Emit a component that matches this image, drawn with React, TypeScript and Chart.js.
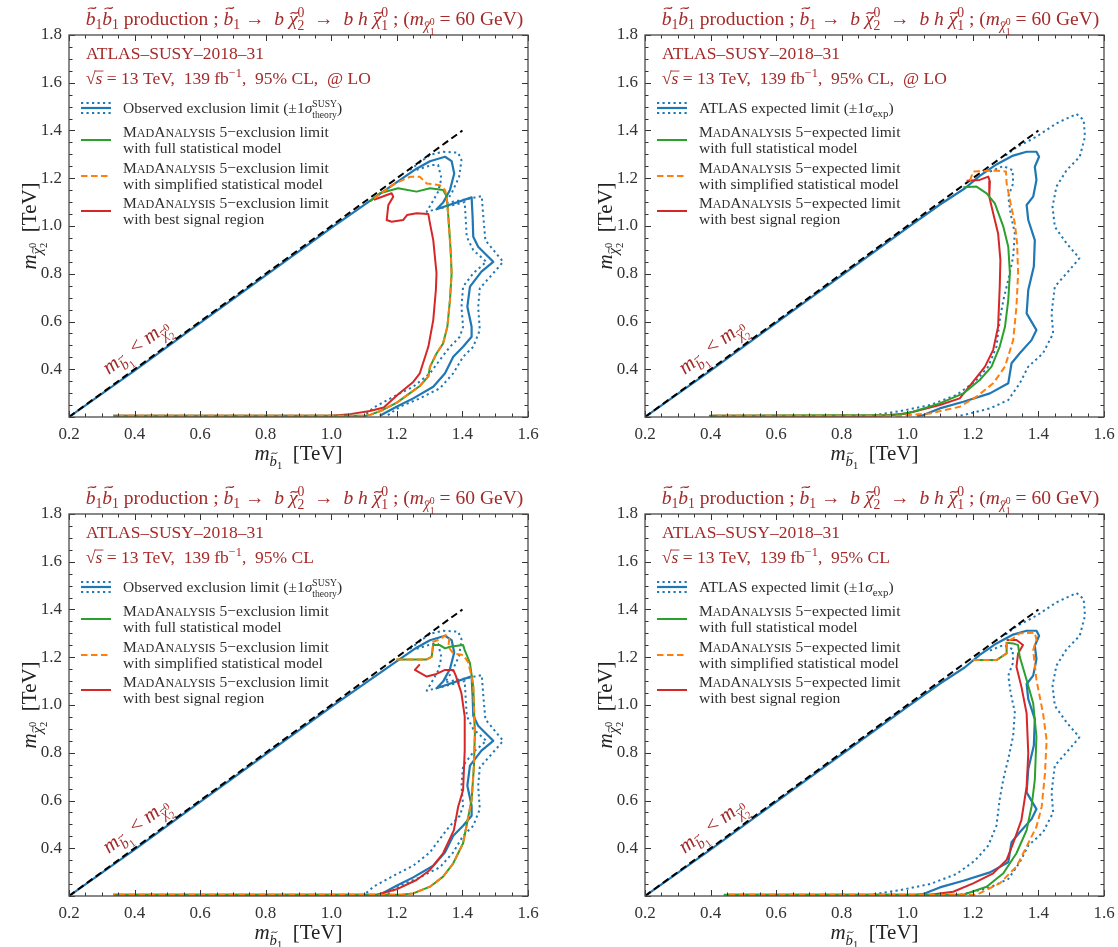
import React, { useEffect, useRef } from 'react';
import { Chart, registerables } from 'chart.js';
Chart.register(...registerables);

type P = [number, number];

const X_TICKS = [0.2, 0.4, 0.6, 0.8, 1.0, 1.2, 1.4, 1.6];
const Y_TICKS = [0.4, 0.6, 0.8, 1.0, 1.2, 1.4, 1.6, 1.8];

const diagonal: P[] = [[0.2, 0.2], [1.4, 1.4]];

// ATLAS observed limit (left panels)
const obsLimit: P[] = [[0.2,0.2],[0.4,0.394],[0.6,0.594],[0.8,0.793],[1.0,0.992],[1.118,1.105],[1.199,1.183],[1.26,1.24],[1.301,1.271],[1.347,1.29],[1.367,1.272],[1.375,1.22],[1.362,1.151],[1.341,1.098],[1.321,1.07],[1.428,1.12],[1.431,1.04],[1.433,0.955],[1.448,0.913],[1.494,0.85],[1.458,0.809],[1.423,0.746],[1.415,0.662],[1.428,0.578],[1.428,0.536],[1.402,0.494],[1.372,0.452],[1.347,0.383],[1.311,0.327],[1.25,0.278],[1.199,0.243],[1.148,0.205]];
const obsUp: P[] = [[1.24,1.235],[1.301,1.298],[1.341,1.311],[1.387,1.307],[1.397,1.276],[1.39,1.206],[1.367,1.137],[1.347,1.095],[1.459,1.125],[1.463,1.05],[1.47,0.94],[1.524,0.85],[1.494,0.802],[1.453,0.739],[1.448,0.662],[1.453,0.564],[1.433,0.494],[1.402,0.452],[1.372,0.383],[1.331,0.32],[1.27,0.278],[1.209,0.243],[1.17,0.205]];
const obsDown: P[] = [[1.26,1.235],[1.306,1.255],[1.326,1.255],[1.336,1.2],[1.326,1.144],[1.306,1.095],[1.291,1.06],[1.407,1.1],[1.413,0.955],[1.433,0.899],[1.473,0.85],[1.433,0.802],[1.402,0.746],[1.397,0.662],[1.402,0.578],[1.392,0.536],[1.362,0.494],[1.331,0.439],[1.301,0.383],[1.25,0.327],[1.19,0.285],[1.13,0.24],[1.1,0.205]];

// ATLAS expected limit (right panels)
const expLimit: P[] = [[0.2,0.2],[0.4,0.394],[0.6,0.594],[0.8,0.793],[1.0,0.992],[1.1,1.09],[1.176,1.158],[1.221,1.21],[1.272,1.258],[1.323,1.295],[1.364,1.311],[1.394,1.311],[1.402,1.29],[1.389,1.248],[1.394,1.193],[1.384,1.123],[1.364,1.088],[1.369,1.025],[1.389,0.941],[1.386,0.83],[1.369,0.732],[1.364,0.634],[1.394,0.564],[1.379,0.522],[1.343,0.467],[1.318,0.425],[1.308,0.341],[1.252,0.299],[1.171,0.264],[1.099,0.236],[1.049,0.208],[1.03,0.205]];
const expUp: P[] = [[1.3,1.295],[1.333,1.33],[1.394,1.374],[1.455,1.43],[1.516,1.469],[1.538,1.444],[1.542,1.374],[1.526,1.29],[1.486,1.234],[1.455,1.165],[1.443,1.081],[1.45,0.997],[1.486,0.927],[1.525,0.865],[1.495,0.816],[1.45,0.746],[1.44,0.634],[1.445,0.55],[1.414,0.467],[1.369,0.411],[1.343,0.341],[1.308,0.271],[1.252,0.236],[1.171,0.208],[1.15,0.205]];
const expDown: P[] = [[1.252,1.228],[1.293,1.251],[1.321,1.234],[1.323,1.179],[1.308,1.123],[1.315,1.053],[1.328,0.969],[1.323,0.872],[1.308,0.774],[1.293,0.69],[1.282,0.606],[1.272,0.495],[1.247,0.411],[1.206,0.348],[1.15,0.292],[1.069,0.25],[0.98,0.225],[0.886,0.205]];

// MadAnalysis 5, top-left (observed, LO)
const tlFull: P[] = [[1.118,1.103],[1.148,1.137],[1.204,1.158],[1.26,1.144],[1.301,1.158],[1.341,1.151],[1.352,1.123],[1.357,1.039],[1.364,0.899],[1.367,0.802],[1.362,0.69],[1.354,0.578],[1.341,0.508],[1.321,0.466],[1.301,0.41],[1.296,0.37],[1.27,0.33],[1.24,0.3],[1.2,0.26],[1.15,0.225],[1.12,0.21],[1.105,0.205],[0.335,0.205]];
const tlSimplified: P[] = [[1.13,1.115],[1.194,1.178],[1.24,1.206],[1.27,1.206],[1.291,1.178],[1.331,1.171],[1.347,1.151],[1.352,1.123],[1.357,1.039],[1.364,0.899],[1.367,0.802],[1.362,0.69],[1.354,0.578],[1.341,0.508],[1.321,0.466],[1.301,0.41],[1.296,0.37],[1.27,0.33],[1.24,0.3],[1.2,0.26],[1.15,0.225],[1.12,0.21],[1.105,0.205],[0.335,0.205]];
const tlBest: P[] = [[1.13,1.11],[1.184,1.137],[1.189,1.123],[1.174,1.088],[1.169,1.025],[1.184,1.018],[1.219,1.025],[1.231,1.046],[1.26,1.053],[1.296,1.05],[1.301,1.011],[1.311,0.941],[1.321,0.802],[1.319,0.732],[1.311,0.606],[1.296,0.494],[1.27,0.383],[1.25,0.347],[1.205,0.296],[1.16,0.24],[1.118,0.225],[1.057,0.212],[1.0,0.205],[0.335,0.205]];

// MadAnalysis 5, top-right (expected, LO)
const trFull: P[] = [[1.171,1.162],[1.211,1.165],[1.242,1.137],[1.267,1.095],[1.293,0.997],[1.308,0.913],[1.313,0.802],[1.308,0.69],[1.298,0.578],[1.282,0.495],[1.257,0.411],[1.221,0.355],[1.171,0.299],[1.099,0.257],[1.018,0.222],[0.967,0.208],[0.395,0.205]];
const trSimplified: P[] = [[1.191,1.19],[1.201,1.228],[1.267,1.232],[1.301,1.228],[1.303,1.179],[1.313,1.109],[1.328,1.011],[1.335,0.927],[1.338,0.802],[1.333,0.662],[1.323,0.522],[1.298,0.411],[1.262,0.341],[1.211,0.285],[1.16,0.243],[1.069,0.215],[0.978,0.205],[0.42,0.205]];
const trBest: P[] = [[1.181,1.19],[1.221,1.193],[1.247,1.207],[1.252,1.186],[1.25,1.123],[1.262,1.053],[1.277,0.969],[1.284,0.858],[1.282,0.746],[1.277,0.578],[1.262,0.481],[1.237,0.411],[1.201,0.348],[1.16,0.278],[1.099,0.25],[0.998,0.215],[0.917,0.205],[0.4,0.205]];

// MadAnalysis 5, bottom-left (observed)
const blFull: P[] = [[1.199,1.191],[1.291,1.191],[1.306,1.202],[1.311,1.251],[1.331,1.251],[1.347,1.237],[1.362,1.244],[1.402,1.251],[1.407,1.23],[1.423,1.175],[1.433,1.077],[1.438,0.881],[1.435,0.742],[1.428,0.602],[1.412,0.491],[1.402,0.421],[1.372,0.337],[1.341,0.281],[1.301,0.239],[1.25,0.211],[1.214,0.205],[0.335,0.205]];
const blSimplified: P[] = [[1.199,1.191],[1.291,1.191],[1.306,1.202],[1.311,1.265],[1.331,1.275],[1.349,1.293],[1.36,1.279],[1.357,1.244],[1.372,1.216],[1.402,1.209],[1.417,1.181],[1.428,1.119],[1.433,1.077],[1.438,0.881],[1.435,0.742],[1.428,0.602],[1.412,0.491],[1.402,0.421],[1.372,0.337],[1.341,0.281],[1.301,0.239],[1.25,0.211],[1.214,0.205],[0.335,0.205]];
const blBest: P[] = [[1.27,1.17],[1.255,1.147],[1.291,1.119],[1.321,1.13],[1.347,1.147],[1.372,1.147],[1.38,1.122],[1.397,1.049],[1.407,0.951],[1.407,0.811],[1.402,0.644],[1.387,0.574],[1.374,0.476],[1.341,0.379],[1.301,0.309],[1.26,0.267],[1.199,0.228],[1.138,0.205],[0.335,0.205]];

// MadAnalysis 5, bottom-right (expected)
const brFull: P[] = [[1.201,1.188],[1.272,1.188],[1.303,1.216],[1.303,1.261],[1.323,1.258],[1.338,1.251],[1.343,1.202],[1.364,1.105],[1.384,1.007],[1.394,0.867],[1.389,0.686],[1.379,0.574],[1.364,0.476],[1.333,0.379],[1.293,0.295],[1.242,0.239],[1.171,0.205],[0.44,0.205]];
const brSimplified: P[] = [[1.201,1.188],[1.272,1.188],[1.303,1.216],[1.303,1.265],[1.323,1.279],[1.343,1.3],[1.389,1.303],[1.394,1.272],[1.384,1.23],[1.394,1.105],[1.414,0.965],[1.425,0.853],[1.42,0.714],[1.41,0.574],[1.394,0.49],[1.364,0.407],[1.333,0.323],[1.282,0.253],[1.211,0.205],[0.45,0.205]];
const brBest: P[] = [[1.303,1.272],[1.333,1.272],[1.353,1.251],[1.338,1.216],[1.333,1.16],[1.348,1.077],[1.364,0.965],[1.369,0.797],[1.364,0.658],[1.348,0.518],[1.323,0.421],[1.303,0.351],[1.262,0.295],[1.201,0.253],[1.14,0.218],[1.069,0.205],[0.45,0.205]];

const BLUE = '#1f77b4';
const GREEN = '#2ca02c';
const ORANGE = '#ff7f0e';
const RED = '#d62728';
const DARKRED = '#a52a2a';
const INK = '#2e2e2e';
const SERIF = '"Liberation Serif", "Times New Roman", serif';

type Seg = { t?: string; it?: boolean; sc?: number; dy?: number; tilde?: number; over?: boolean; sup?: string; sub?: string; up?: number; dn?: number };

const TITLE: Seg[] = [
  { t: 'b', it: true, tilde: 0.86 }, { t: '1', sc: 0.7, dy: 0.22 },
  { t: 'b', it: true, tilde: 0.86 }, { t: '1', sc: 0.7, dy: 0.22 },
  { t: ' production ; ' },
  { t: 'b', it: true, tilde: 0.86 }, { t: '1', sc: 0.7, dy: 0.22 },
  { t: ' \u2192  ' }, { t: 'b', it: true }, { t: ' ' }, { t: '\u03c7', it: true, tilde: 0.62 }, { sup: '0', sub: '2', sc: 0.7, up: 0.42, dn: 0.28 },
  { t: '  \u2192  ' }, { t: 'b h', it: true }, { t: ' ' }, { t: '\u03c7', it: true, tilde: 0.62 }, { sup: '0', sub: '1', sc: 0.7, up: 0.42, dn: 0.28 },
  { t: ' ; (' }, { t: 'm', it: true }, { t: '\u03c7', it: true, sc: 0.7, dy: 0.28, tilde: 0.62 }, { sup: '0', sub: '1', sc: 0.5, up: 0.0, dn: 0.5 },
  { t: ' = 60 GeV)' },
];
const ANALYSIS: Seg[] = [{ t: 'ATLAS\u2013SUSY\u20132018\u201331' }];
const SQRTS_LO: Seg[] = [{ t: '\u221a' }, { t: 's', it: true, over: true }, { t: ' = 13 TeV,  139 fb' }, { t: '\u22121', sc: 0.7, dy: -0.38 }, { t: ',  95% CL,  @ LO' }];
const SQRTS: Seg[] = [{ t: '\u221a' }, { t: 's', it: true, over: true }, { t: ' = 13 TeV,  139 fb' }, { t: '\u22121', sc: 0.7, dy: -0.38 }, { t: ',  95% CL' }];
const OBS_LABEL: Seg[] = [{ t: 'Observed exclusion limit (\u00b11' }, { t: '\u03c3', it: true }, { sup: 'SUSY', sub: 'theory', sc: 0.62, up: 0.42, dn: 0.3 }, { t: ')' }];
const EXP_LABEL: Seg[] = [{ t: 'ATLAS expected limit (\u00b11' }, { t: '\u03c3', it: true }, { t: 'exp', sc: 0.7, dy: 0.25 }, { t: ')' }];
const FULL_TXT: Seg[] = [{ t: 'with full statistical model' }];
const SIMP_TXT: Seg[] = [{ t: 'with simplified statistical model' }];
const BEST_TXT: Seg[] = [{ t: 'with best signal region' }];
const X_TITLE: Seg[] = [{ t: 'm', it: true }, { t: 'b', it: true, sc: 0.7, dy: 0.28, tilde: 0.86 }, { t: '1', sc: 0.5, dy: 0.42 }, { t: '  [TeV]' }];
const Y_TITLE: Seg[] = [{ t: 'm', it: true }, { t: '\u03c7', it: true, sc: 0.7, dy: 0.28, tilde: 0.62 }, { sup: '0', sub: '2', sc: 0.5, up: 0.0, dn: 0.5 }, { t: '  [TeV]' }];
const DIAG_LABEL: Seg[] = [{ t: 'm', it: true }, { t: 'b', it: true, sc: 0.7, dy: 0.28, tilde: 0.86 }, { t: '1', sc: 0.5, dy: 0.42 }, { t: ' < ' }, { t: 'm', it: true }, { t: '\u03c7', it: true, sc: 0.7, dy: 0.28, tilde: 0.62 }, { sup: '0', sub: '2', sc: 0.5, up: 0.0, dn: 0.5 }];
const ma5 = (kind: string): Seg[] => [{ t: 'M' }, { t: 'AD', sc: 0.78 }, { t: 'A' }, { t: 'NALYSIS', sc: 0.78 }, { t: ' 5\u2212' + kind + ' limit' }];

function font(size: number, it?: boolean) {
  return `${it ? 'italic ' : ''}${size}px ${SERIF}`;
}
function segWidth(ctx: CanvasRenderingContext2D, s: Seg, size: number) {
  const sc = s.sc ?? 1;
  if (s.sup !== undefined || s.sub !== undefined) {
    ctx.font = font(size * sc);
    return Math.max(ctx.measureText(s.sup || '').width, ctx.measureText(s.sub || '').width);
  }
  ctx.font = font(size * sc, s.it);
  return ctx.measureText(s.t || '').width;
}
function richWidth(ctx: CanvasRenderingContext2D, segs: Seg[], size: number) {
  return segs.reduce((w, s) => w + segWidth(ctx, s, size), 0);
}
function drawTilde(ctx: CanvasRenderingContext2D, cx: number, cy: number, w: number, lw: number) {
  const h = w * 0.13;
  ctx.beginPath();
  ctx.moveTo(cx - w / 2, cy + h);
  ctx.bezierCurveTo(cx - w / 4, cy - h * 2.2, cx + w / 4, cy + h * 2.2, cx + w / 2, cy - h);
  ctx.lineWidth = lw;
  ctx.stroke();
}
function drawRich(ctx: CanvasRenderingContext2D, segs: Seg[], x: number, y: number, size: number, color: string, align: 'left' | 'center' = 'left') {
  const total = richWidth(ctx, segs, size);
  let cx = align === 'center' ? x - total / 2 : x;
  ctx.fillStyle = color;
  ctx.strokeStyle = color;
  ctx.textAlign = 'left';
  ctx.textBaseline = 'alphabetic';
  for (const s of segs) {
    const w = segWidth(ctx, s, size);
    const sc = s.sc ?? 1;
    const fs = size * sc;
    if (s.sup !== undefined || s.sub !== undefined) {
      ctx.font = font(fs);
      if (s.sup) ctx.fillText(s.sup, cx, y - (s.up ?? 0.42) * size);
      if (s.sub) ctx.fillText(s.sub, cx, y + (s.dn ?? 0.28) * size);
    } else {
      const by = y + (s.dy ?? 0) * size;
      ctx.font = font(fs, s.it);
      ctx.fillText(s.t || '', cx, by);
      if (s.tilde) drawTilde(ctx, cx + w / 2 + (s.it ? 0.07 * fs : 0), by - s.tilde * fs, 0.42 * fs, Math.max(0.9, 0.06 * fs));
      if (s.over) {
        ctx.beginPath();
        ctx.moveTo(cx - 1, by - 0.74 * fs);
        ctx.lineTo(cx + w + 1, by - 0.74 * fs);
        ctx.lineWidth = Math.max(0.9, 0.05 * fs);
        ctx.stroke();
      }
    }
    cx += w;
  }
}
function fitSize(ctx: CanvasRenderingContext2D, segs: Seg[], target: number) {
  return (20 * target) / richWidth(ctx, segs, 20);
}

type Panel = { left: number; top: number; w: number; h: number; observed: boolean; lo: boolean; full: P[]; simp: P[]; best: P[] };
const PANELS: Panel[] = [
  { left: 0, top: 0, w: 559, h: 474, observed: true, lo: true, full: tlFull, simp: tlSimplified, best: tlBest },
  { left: 576, top: 0, w: 542, h: 474, observed: false, lo: true, full: trFull, simp: trSimplified, best: trBest },
  { left: 0, top: 479, w: 559, h: 468, observed: true, lo: false, full: blFull, simp: blSimplified, best: blBest },
  { left: 576, top: 479, w: 542, h: 468, observed: false, lo: false, full: brFull, simp: brSimplified, best: brBest },
];

const DOT = [2.2, 3.3];
const DASH = [6.5, 3.5];

function makeChart(canvas: HTMLCanvasElement, p: Panel) {
  const mk = (pts: P[], color: string, dash: number[], order: number, width = 2) => ({
    data: pts.map(([x, y]) => ({ x, y })),
    borderColor: color,
    backgroundColor: color,
    borderDash: dash,
    borderWidth: width,
    pointRadius: 0,
    pointHoverRadius: 0,
    showLine: true,
    fill: false,
    tension: 0,
    order,
    borderCapStyle: 'butt',
    borderJoinStyle: 'round',
  });
  const central = p.observed ? obsLimit : expLimit;
  const up = p.observed ? obsUp : expUp;
  const down = p.observed ? obsDown : expDown;
  const datasets: any[] = [
    mk(up, BLUE, DOT, 10),
    mk(down, BLUE, DOT, 10),
    mk(central, BLUE, [], 9, 2.2),
    mk(diagonal, '#000000', [7, 4], 8),
    mk(p.best, RED, [], 7),
    mk(p.full, GREEN, [], 6),
    mk(p.simp, ORANGE, DASH, 5),
  ];
  const kind = p.observed ? 'exclusion' : 'expected';

  const deco = {
    id: 'deco',
    afterDraw(chart: any) {
      const ctx: CanvasRenderingContext2D = chart.ctx;
      const a = chart.chartArea;
      const xs = chart.scales.x;
      const ys = chart.scales.y;
      ctx.save();
      // ticks (inward, all sides)
      ctx.strokeStyle = '#333';
      ctx.beginPath();
      for (let i = 0; i <= 28; i++) {
        const v = 0.2 + i * 0.05;
        const L = i % 4 === 0 ? 6 : 3.5;
        const px = Math.round(xs.getPixelForValue(v)) + 0.5;
        ctx.moveTo(px, a.bottom); ctx.lineTo(px, a.bottom - L);
        ctx.moveTo(px, a.top); ctx.lineTo(px, a.top + L);
      }
      for (let i = 0; i <= 32; i++) {
        const v = 0.2 + i * 0.05;
        const L = i % 4 === 0 ? 6 : 3.5;
        const py = Math.round(ys.getPixelForValue(v)) + 0.5;
        ctx.moveTo(a.left, py); ctx.lineTo(a.left + L, py);
        ctx.moveTo(a.right, py); ctx.lineTo(a.right - L, py);
      }
      ctx.lineWidth = 1;
      ctx.stroke();
      // frame
      ctx.strokeStyle = '#4a4a4a';
      ctx.lineWidth = 1.3;
      ctx.strokeRect(a.left, a.top, a.right - a.left, a.bottom - a.top);

      // title
      const ts = fitSize(ctx, TITLE, 438);
      drawRich(ctx, TITLE, 304.5, 25, ts, DARKRED, 'center');
      // analysis text
      const as = fitSize(ctx, ANALYSIS, 178);
      drawRich(ctx, ANALYSIS, 86, 59, as, DARKRED);
      drawRich(ctx, p.lo ? SQRTS_LO : SQRTS, 86, 84, as, DARKRED);

      // legend
      const ls = fitSize(ctx, SIMP_TXT, 200);
      const sx0 = 81, sx1 = 111, tx = 123;
      const off = ls * 0.33;
      // entry 1 (blue)
      const y1 = 108;
      ctx.strokeStyle = BLUE;
      ctx.lineWidth = 2;
      ctx.setLineDash(DOT);
      ctx.beginPath(); ctx.moveTo(sx0, y1 - 5); ctx.lineTo(sx1, y1 - 5); ctx.stroke();
      ctx.beginPath(); ctx.moveTo(sx0, y1 + 5); ctx.lineTo(sx1, y1 + 5); ctx.stroke();
      ctx.setLineDash([]);
      ctx.lineWidth = 2.2;
      ctx.beginPath(); ctx.moveTo(sx0, y1); ctx.lineTo(sx1, y1); ctx.stroke();
      drawRich(ctx, p.observed ? OBS_LABEL : EXP_LABEL, tx, y1 + off, ls, INK);
      const entries: { y: number; color: string; dash: number[]; second: Seg[] }[] = [
        { y: 140, color: GREEN, dash: [], second: FULL_TXT },
        { y: 176, color: ORANGE, dash: DASH, second: SIMP_TXT },
        { y: 211, color: RED, dash: [], second: BEST_TXT },
      ];
      for (const e of entries) {
        ctx.strokeStyle = e.color;
        ctx.lineWidth = 2;
        ctx.setLineDash(e.dash);
        ctx.beginPath(); ctx.moveTo(sx0, e.y); ctx.lineTo(sx1, e.y); ctx.stroke();
        ctx.setLineDash([]);
        drawRich(ctx, ma5(kind), tx, e.y - 8 + off, ls, INK);
        drawRich(ctx, e.second, tx, e.y + 8 + off, ls, INK);
      }

      // diagonal label
      ctx.save();
      ctx.translate(136, 347);
      ctx.rotate((-37 * Math.PI) / 180);
      drawRich(ctx, DIAG_LABEL, 0, 6, 21, DARKRED, 'center');
      ctx.restore();

      // axis titles
      drawRich(ctx, X_TITLE, 298.5, 460, 21, '#222', 'center');
      ctx.save();
      ctx.translate(36, 226);
      ctx.rotate(-Math.PI / 2);
      drawRich(ctx, Y_TITLE, 0, 0, 21, '#222', 'center');
      ctx.restore();
      ctx.restore();
    },
  };

  return new Chart(canvas, {
    type: 'scatter',
    data: { datasets },
    options: {
      responsive: false,
      animation: false,
      events: [],
      layout: { padding: { left: 0, top: 35, right: p.w - 528, bottom: 0 } },
      plugins: { legend: { display: false }, tooltip: { enabled: false } },
      scales: {
        x: {
          type: 'linear',
          min: 0.2,
          max: 1.6,
          grid: { display: false, drawTicks: false },
          border: { display: false },
          afterBuildTicks: (s: any) => { s.ticks = X_TICKS.map((v) => ({ value: v })); },
          afterFit: (s: any) => { s.height = p.h - 417; s.paddingLeft = 0; s.paddingRight = 0; s.paddingTop = 0; s.paddingBottom = 0; },
          ticks: { padding: 7, color: '#333', font: { family: SERIF, size: 17 }, maxRotation: 0, autoSkip: false, callback: (v: any) => Number(v).toFixed(1) },
        },
        y: {
          type: 'linear',
          min: 0.2,
          max: 1.8,
          grid: { display: false, drawTicks: false },
          border: { display: false },
          afterBuildTicks: (s: any) => { s.ticks = Y_TICKS.map((v) => ({ value: v })); },
          afterFit: (s: any) => { s.width = 69; s.paddingLeft = 0; s.paddingRight = 0; s.paddingTop = 0; s.paddingBottom = 0; },
          ticks: { padding: 7, color: '#333', font: { family: SERIF, size: 17 }, autoSkip: false, callback: (v: any) => Number(v).toFixed(1) },
        },
      },
    } as any,
    plugins: [deco],
  });
}

export default function App() {
  const r0 = useRef<HTMLCanvasElement>(null);
  const r1 = useRef<HTMLCanvasElement>(null);
  const r2 = useRef<HTMLCanvasElement>(null);
  const r3 = useRef<HTMLCanvasElement>(null);
  const refs = [r0, r1, r2, r3];
  useEffect(() => {
    const charts = PANELS.map((p, i) => makeChart(refs[i].current as HTMLCanvasElement, p));
    return () => charts.forEach((c) => c.destroy());
  }, []);
  return (
    <div style={{ position: 'absolute', left: 0, top: 0, width: 1118, height: 947, background: '#ffffff', overflow: 'hidden' }}>
      {PANELS.map((p, i) => (
        <div key={i} style={{ position: 'absolute', left: p.left, top: p.top, width: p.w, height: p.h }}>
          <canvas ref={refs[i]} width={p.w} height={p.h} style={{ width: p.w, height: p.h, display: 'block' }} />
        </div>
      ))}
    </div>
  );
}
